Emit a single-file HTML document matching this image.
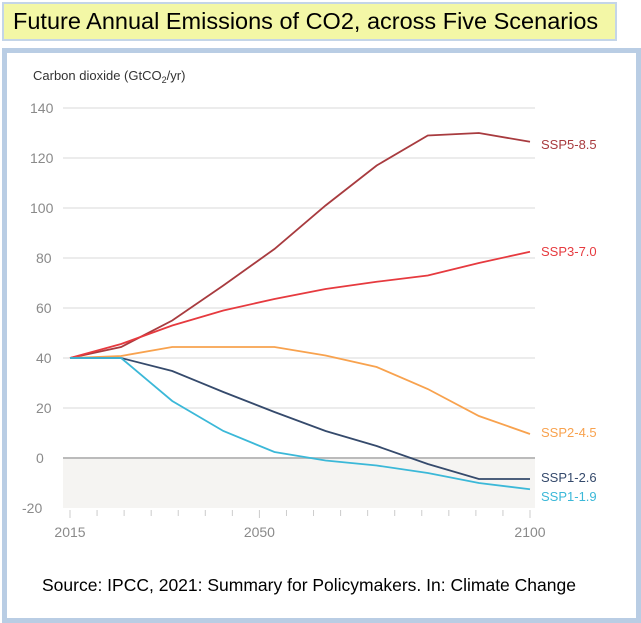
<!DOCTYPE html>
<html><head><meta charset="utf-8"><style>
body{margin:0;width:641px;height:623px;background:#fff;position:relative;overflow:hidden;font-family:"Liberation Sans",sans-serif}
#title{position:absolute;left:2px;top:2px;background:#f3f7a6;border:2px solid #c4d5e8;font-size:23.5px;line-height:35px;padding-left:9px;box-sizing:border-box;width:615px;height:39px}
#frame{position:absolute;left:2px;top:48px;width:639px;height:575px;border:5px solid #b9cde4;box-sizing:border-box}
svg{position:absolute;left:0;top:0}
</style></head><body>
<div id="title">Future Annual Emissions of CO2, across Five Scenarios</div>
<div id="frame"></div>
<svg id="chart" width="641" height="623"></svg>
<script>
const years=[2015,2020,2030,2040,2050,2060,2070,2080,2090,2100];
const ssp585=[40,44.4,55,69,83.6,101,117,129,130,126.5];
const ssp370=[40,45.6,53,59,63.6,67.6,70.5,73,78,82.5];
const ssp245=[40,40.8,44.4,44.4,44.4,41,36.4,27.6,16.8,9.6];
const ssp126=[40,40,34.8,26.4,18.4,10.8,4.8,-2.4,-8.4,-8.4];
const ssp119=[40,40,22.8,10.8,2.4,-1,-3,-6,-10,-12.5];
const yTicks=[140,120,100,80,60,40,20,0,-20];
const xLabels=[2015,2050,2100];
const seriesNames=["SSP5-8.5","SSP3-7.0","SSP2-4.5","SSP1-2.6","SSP1-1.9"];
const NS="http://www.w3.org/2000/svg";
const svg=document.getElementById('chart');
const X0=70,X1=530,Y0=458,K=2.5;
const xi=i=>X0+i*(X1-X0)/(years.length-1);
const xy=yr=>X0+(yr-2015)*(X1-X0)/85;
const yv=v=>Y0-v*K;
function el(t,a){const e=document.createElementNS(NS,t);for(const k in a)e.setAttribute(k,a[k]);svg.appendChild(e);return e;}
let e=el('text',{x:33,y:80,'font-size':13,fill:'#333'});


e.innerHTML='Carbon dioxide (GtCO<tspan font-size="9" dy="3">2</tspan><tspan dy="-3">/yr)</tspan>';
e=el('rect',{x:63,y:yv(0),width:472,height:yv(-20)-yv(0),fill:'#f5f4f2'});


yTicks.forEach(v=>{
 if(v>-20){const g=el('line',{x1:63,x2:535,y1:yv(v),y2:yv(v),stroke:v===0?'#bbb':'#e6e6e6','stroke-width':v===0?2:1.5});
 
 }
 const t=el('text',{x:v<0?22:(v>=100?30:36),y:yv(v)+5,'font-size':14,fill:'#8a8a8a'});
 
 
 t.textContent=v;
});
for(let yr=2015;yr<=2100;yr+=5){
 const t=el('line',{x1:xy(yr),x2:xy(yr),y1:yv(-20)+2,y2:yv(-20)+((yr===2015||yr===2050||yr===2100)?10:8),stroke:'#ccc','stroke-width':1});
 
 
}
xLabels.forEach(yr=>{
 const t=el('text',{x:xy(yr),y:537,'font-size':14,fill:'#8a8a8a','text-anchor':'middle'});
 
 
 t.textContent=yr;
});
const series=[ssp585,ssp370,ssp245,ssp126,ssp119];
const colors=['#a83b3f','#e63a3f','#f8a24e','#354a6c','#3bb8d8'];
const labelY=[149,256,437,482,501];
series.forEach((s,k)=>{
 const p=el('polyline',{points:s.map((v,i)=>xi(i)+','+yv(v)).join(' '),fill:'none',stroke:colors[k],'stroke-width':1.8});
 
 
 const t=el('text',{x:541,y:labelY[k],'font-size':13,fill:colors[k]});
 
 
 t.textContent=seriesNames[k];
});
e=el('text',{x:42,y:591,'font-size':17.5,fill:'#000'});


e.textContent='Source: IPCC, 2021: Summary for Policymakers. In: Climate Change';
</script>
</body></html>
